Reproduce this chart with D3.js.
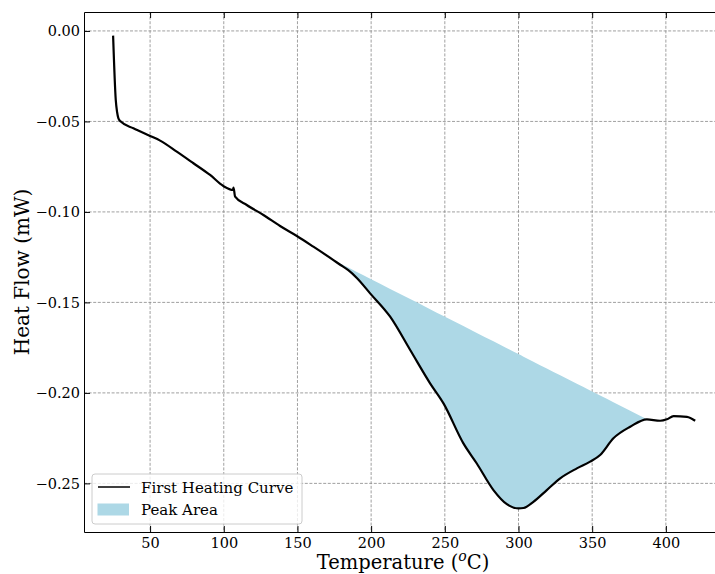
<!DOCTYPE html>
<html>
<head>
<meta charset="utf-8">
<script src="https://cdn.jsdelivr.net/npm/d3@7"></script>
<style>
  body { margin: 0; background: #fff; }
  svg { display: block; }
  text { font-family: "DejaVu Serif", serif; }
</style>
</head>
<body>
<svg id="chart" width="715" height="574"></svg>
<script>
// Temperature (°C) and heat flow (mW)
const temperature = [24.9, 26.7, 27.6, 28.5, 30.1, 38.7, 50.0, 56.8, 68.1, 79.4, 90.7, 99.7, 106.3, 106.6, 107.7, 115.6, 126.9, 138.2, 149.6, 160.8, 174.4, 179.0, 184.5, 190.3, 199.3, 212.9, 226.5, 240.0, 249.1, 262.6, 271.7, 283.0, 292.1, 300.0, 303.4, 310.1, 319.2, 328.3, 339.6, 348.6, 355.4, 364.4, 375.8, 387.1, 396.1, 400.7, 405.2, 414.3, 419.9];
const heatFlow = [-0.0026, -0.0381, -0.0448, -0.0483, -0.0501, -0.0538, -0.0580, -0.0606, -0.0667, -0.0731, -0.0796, -0.0857, -0.0879, -0.0866, -0.0916, -0.0962, -0.1017, -0.1078, -0.1133, -0.1192, -0.1266, -0.1292, -0.1322, -0.1365, -0.1450, -0.1579, -0.1763, -0.1947, -0.2058, -0.2279, -0.2390, -0.2537, -0.2615, -0.2638, -0.2636, -0.2602, -0.2537, -0.2472, -0.2417, -0.2380, -0.2343, -0.2251, -0.2187, -0.2146, -0.2154, -0.2146, -0.2128, -0.2132, -0.2154];
const peakStart = 174.4;
const peakEnd = 387.1;
const xTicks = [50, 100, 150, 200, 250, 300, 350, 400];
const yTicks = [0, -0.05, -0.10, -0.15, -0.20, -0.25];
const legendLabels = ["First Heating Curve", "Peak Area"];

const data = temperature.map((t, i) => ({t, h: heatFlow[i]}));

const svg = d3.select("#chart");
const pLeft = 84, pTop = 12, pBottom = 532;

// matplotlib-like 5% margins
const tMin = d3.min(temperature), tMax = d3.max(temperature);
const hMin = d3.min(heatFlow), hMax = d3.max(heatFlow);
const tPad = (tMax - tMin) * 0.05, hPad = (hMax - hMin) * 0.05;

const x = d3.scaleLinear().domain([tMin - tPad, tMax + tPad]).range([pLeft, 724.3]);
const y = d3.scaleLinear().domain([hMax + hPad, hMin - hPad]).range([pTop, pBottom]);
const pRight = x.range()[1];

// grid
const grid = svg.append("g");
grid.selectAll(".gx").data(xTicks).enter().append("line")
  .attr("x1", d => x(d)).attr("x2", d => x(d)).attr("y1", pTop).attr("y2", pBottom)
  .attr("stroke", "#888").attr("stroke-width", 0.8).attr("stroke-dasharray", "3,1.6");
grid.selectAll(".gy").data(yTicks).enter().append("line")
  .attr("y1", d => y(d)).attr("y2", d => y(d)).attr("x1", pLeft).attr("x2", pRight)
  .attr("stroke", "#888").attr("stroke-width", 0.8).attr("stroke-dasharray", "3,1.6");

// peak area fill
const s = data.find(d => d.t === peakStart), e = data.find(d => d.t === peakEnd);
const base = t => s.h + (e.h - s.h) * (t - s.t) / (e.t - s.t);
const peak = data.filter(d => d.t >= peakStart && d.t <= peakEnd);
svg.append("path").datum(peak)
  .attr("fill", "#add8e6")
  .attr("d", d3.area().curve(d3.curveMonotoneX).x(d => x(d.t)).y0(d => y(d.h)).y1(d => y(base(d.t))));

// curve
svg.append("path").datum(data)
  .attr("fill", "none").attr("stroke", "#000").attr("stroke-width", 2.2)
  .attr("stroke-linejoin", "round")
  .attr("d", d3.line().curve(d3.curveMonotoneX).x(d => x(d.t)).y(d => y(d.h)));

// axes with inward ticks
const fmtY = v => (v < -1e-9 ? "\u2212" : "") + d3.format(".2f")(Math.abs(v));
const gx = svg.append("g").attr("transform", `translate(0,${pBottom})`)
  .call(d3.axisBottom(x).tickValues(xTicks).tickSizeInner(-6).tickSizeOuter(0));
const gxt = svg.append("g").attr("transform", `translate(0,${pTop})`)
  .call(d3.axisTop(x).tickValues(xTicks).tickSizeInner(-6).tickSizeOuter(0).tickFormat(""));
const gy = svg.append("g").attr("transform", `translate(${pLeft},0)`)
  .call(d3.axisLeft(y).tickValues(yTicks).tickSizeInner(-6).tickSizeOuter(0).tickFormat(fmtY));
const gyr = svg.append("g").attr("transform", `translate(${pRight},0)`)
  .call(d3.axisRight(y).tickValues(yTicks).tickSizeInner(-6).tickSizeOuter(0).tickFormat(""));
[gx, gxt, gy, gyr].forEach(g => {
  g.attr("font-family", "DejaVu Serif");
  g.selectAll(".domain").attr("stroke", "#000").attr("stroke-width", 1);
  g.selectAll(".tick line").attr("stroke", "#000").attr("stroke-width", 1);
  g.selectAll("text").attr("font-family", "DejaVu Serif").attr("font-size", 14.5).attr("fill", "#000");
});
gx.selectAll("text").attr("dy", 0).attr("y", 16);
gy.selectAll("text").attr("x", -4);

// axis labels
const xl = svg.append("text").attr("x", 403).attr("y", 569)
  .attr("text-anchor", "middle").attr("font-size", 19.5).attr("fill", "#000");
xl.append("tspan").text("Temperature (");
xl.append("tspan").text("o").attr("font-style", "italic").attr("font-size", 14).attr("dy", -8);
xl.append("tspan").text("C)").attr("dy", 8);

svg.append("text").attr("transform", `translate(28.5,${(pTop + pBottom) / 2}) rotate(-90)`)
  .attr("text-anchor", "middle").attr("font-size", 20).attr("fill", "#000")
  .text("Heat Flow (mW)");

// legend
const lg = svg.append("g");
lg.append("rect").attr("x", 92).attr("y", 474).attr("width", 210).attr("height", 50)
  .attr("rx", 3).attr("fill", "#fff").attr("fill-opacity", 0.8)
  .attr("stroke", "#ccc").attr("stroke-width", 1);
lg.append("line").attr("x1", 98).attr("x2", 130).attr("y1", 487).attr("y2", 487)
  .attr("stroke", "#000").attr("stroke-width", 1.5);
lg.append("rect").attr("x", 97.5).attr("y", 503.5).attr("width", 31.5).attr("height", 12)
  .attr("fill", "#add8e6");
lg.selectAll(".lt").data(legendLabels).enter().append("text")
  .attr("x", 141).attr("y", (d, i) => 493 + i * 22)
  .attr("font-size", 15).attr("fill", "#000").text(d => d);
</script>
</body>
</html>
